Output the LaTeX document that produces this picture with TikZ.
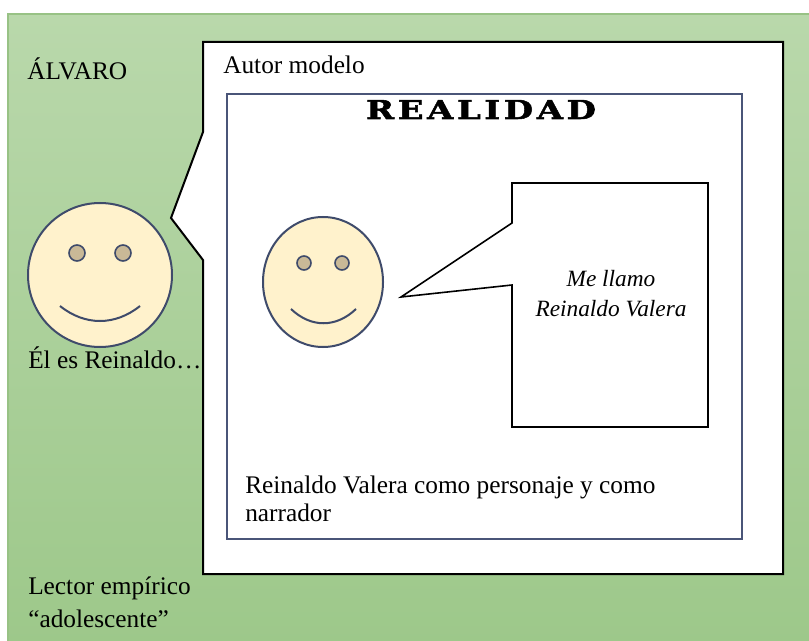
\documentclass[tikz,border=0pt]{standalone}
\usepackage{fontspec}
\setmainfont{Liberation Serif}
\newfontfamily\realidadfont[FakeStretch=1.3,FakeBold=2,LetterSpace=14]{DejaVu Serif Bold}

\definecolor{greentop}{HTML}{B9D8AB}
\definecolor{greenbottom}{HTML}{9DC88A}
\definecolor{greenline}{HTML}{98C285}
\definecolor{slate}{HTML}{4A5578}
\definecolor{facefill}{HTML}{FFF2CC}
\definecolor{faceline}{HTML}{3F4B6B}
\definecolor{eyefill}{HTML}{C9B997}

\begin{document}
\begin{tikzpicture}[x=0.75pt,y=0.75pt,yscale=-1,xscale=1,
  txt/.style={inner sep=0.75pt, font=\fontsize{19}{21}\selectfont, align=left},
  face/.style={draw=faceline, fill=facefill, line width=1.5},
  eye/.style={draw=faceline, fill=eyefill, line width=1.2},
  smile/.style={draw=faceline, line width=1.5}]
\useasboundingbox (0,0) rectangle (809,641);

%Shape: Rectangle [background]
\draw [draw=greenline, top color=greentop, bottom color=greenbottom, line width=1]  (8,14) rectangle (812,645) ;
%Shape: Callout [autor modelo]
\draw [fill=white, line width=1.5]  (203,42) -- (783,42) -- (783,574) -- (203,574) -- (203,260) -- (171,218) -- (203,132) -- cycle ;
%Shape: Rectangle [realidad]
\draw [draw=slate, fill=white, line width=1.5]  (227,94) rectangle (742,539) ;
%Shape: Callout [bocadillo]
\draw [fill=white, line width=1.2]  (512,183) -- (708,183) -- (708,427) -- (512,427) -- (512,285) -- (401,297) -- (512,223) -- cycle ;

%Shape: Smiley [lector]
\draw [face]  (100,275) circle (72) ;
\draw [eye]  (77,253) circle (8) ;
\draw [eye]  (123,253) circle (8) ;
\draw [smile]  (60,306) .. controls (85,326) and (115,326) .. (140,306) ;
%Shape: Smiley [personaje]
\draw [face]  (323,282) ellipse (60 and 65) ;
\draw [eye]  (304,263) circle (7) ;
\draw [eye]  (342,263) circle (7) ;
\draw [smile]  (291,309) .. controls (311,328) and (336,328) .. (356,309) ;

% Text Node
\draw (26,80) node [anchor=base west][txt] (alvaro) {ÁLVARO};
% Text Node
\draw (222,74) node [anchor=base west][txt] (autor) {Autor modelo};
% Text Node
\draw (481,119) node [anchor=base][inner sep=0.75pt] (realidad) {\realidadfont\fontsize{19.5}{21}\selectfont REALIDAD};
% Text Node
\draw (27,368) node [anchor=base west][txt] (eles) {Él es Reinaldo…};
% Text Node
\draw (611,316) node [anchor=base][txt, align=center, font=\fontsize{17.5}{22.5}\selectfont\itshape] (mellamo) {Me llamo\\Reinaldo Valera};
% Text Node
\draw (244,521) node [anchor=base west][txt] (narrador) {Reinaldo Valera como personaje y como\\narrador};
% Text Node
\draw (27,627) node [anchor=base west][txt, font=\fontsize{19}{24.75}\selectfont] (lector) {Lector empírico\\“adolescente”};

\end{tikzpicture}
\end{document}
